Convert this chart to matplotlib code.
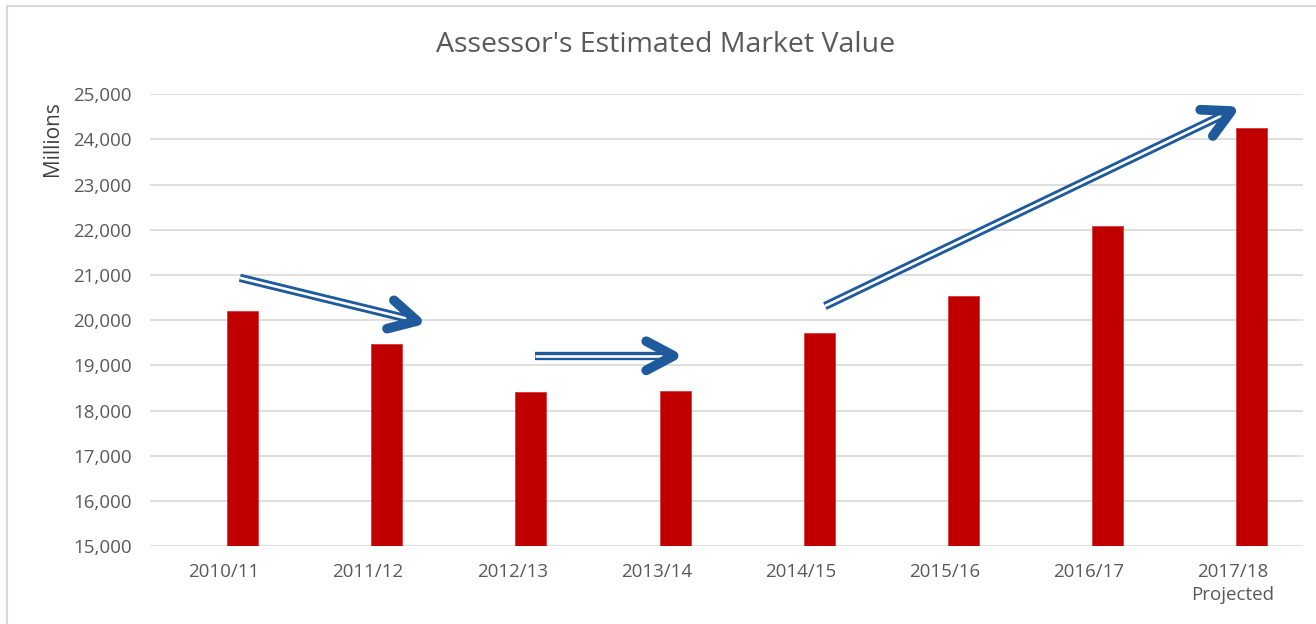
import numpy as np
import matplotlib
matplotlib.use("Agg")
import matplotlib.pyplot as plt
from matplotlib.lines import Line2D

# ---------------- data ----------------
categories = ["2010/11", "2011/12", "2012/13", "2013/14", "2014/15",
              "2015/16", "2016/17", "2017/18\nProjected"]
values = [20200, 19480, 18410, 18435, 19730, 20545, 22085, 24250]
y_ticks = [15000, 16000, 17000, 18000, 19000, 20000, 21000, 22000, 23000, 24000, 25000]

# trend arrows (category index, value)
arrow_start_x = [0.11, 2.16, 4.17]
arrow_start_y = [20940, 19215, 20315]
arrow_end_x = [1.34, 3.12, 6.99]
arrow_end_y = [19985, 19215, 24630]

title = "Assessor's Estimated Market Value"
y_label = "Millions"

# ---------------- style ----------------
FONT = ["Open Sans", "DejaVu Sans"]
plt.rcParams["font.family"] = FONT
TXT = "#595959"
GRID = "#D9D9D9"
BAR = "#C00000"
BLUE = "#1F5A9C"

W, H = 1316, 624
fig = plt.figure(figsize=(W / 100, H / 100), dpi=100)
ax = fig.add_axes([150 / W, 1 - 546.3 / H, 1153 / W, 452 / H])

x = np.arange(len(categories))
ax.bar(x + 0.13, values, width=0.215, color=BAR, edgecolor="#D43A3A",
       linewidth=0.6, zorder=2)

ax.set_xlim(-0.5135, 7.488)
ax.set_ylim(15000, 25000)
ax.set_yticks(y_ticks)
ax.set_yticklabels([f"{v:,}" for v in y_ticks])
ax.set_xticks(x)
ax.set_xticklabels(categories, linespacing=1.35)
ax.tick_params(axis="y", length=0, pad=13, labelsize=13.5, labelcolor=TXT)
ax.tick_params(axis="x", length=0, pad=12, labelsize=13.5, labelcolor=TXT)
ax.grid(axis="y", color=GRID, linewidth=1.2, zorder=0)
ax.set_axisbelow(True)
for s in ax.spines.values():
    s.set_visible(False)

fig.text(53 / W, 1 - 139 / H, y_label, rotation=90, ha="center", va="center",
         fontsize=15, color="#404040")

fig.text(666 / W, 1 - 45 / H, title, ha="center", va="center",
         fontsize=20.5, color=TXT)

# chart border (top & left visible)
fig.add_artist(Line2D([7 / W, 7 / W], [0, 1 - 6 / H], color=GRID, lw=1.5))
fig.add_artist(Line2D([7 / W, 1], [1 - 6 / H, 1 - 6 / H], color=GRID, lw=1.5))


def draw_arrow(x0, y0, x1, y1):
    P0 = ax.transData.transform((x0, y0))
    P1 = ax.transData.transform((x1, y1))
    d = (P1 - P0) / np.hypot(*(P1 - P0))
    px = fig.dpi / 72.0
    Pe = P1 - d * 2 * px
    inv = ax.transData.inverted()
    e = inv.transform(Pe)
    ax.plot([x0, e[0]], [y0, e[1]], color=BLUE, lw=6.0,
            solid_capstyle="butt", zorder=5, clip_on=False)
    ax.plot([x0, e[0]], [y0, e[1]], color="white", lw=1.9,
            solid_capstyle="butt", zorder=6, clip_on=False)
    back = -d
    L = 31 * fig.dpi / 100.0
    a = np.deg2rad(28)
    pts = []
    for sgn in (1, -1):
        c, s_ = np.cos(sgn * a), np.sin(sgn * a)
        r = np.array([back[0] * c - back[1] * s_, back[0] * s_ + back[1] * c])
        pts.append(inv.transform(P1 + r * L))
    xs = [pts[0][0], x1, pts[1][0]]
    ys = [pts[0][1], y1, pts[1][1]]
    ax.plot(xs, ys, color=BLUE, lw=7.0, solid_capstyle="round",
            solid_joinstyle="round", zorder=7, clip_on=False)


for i in range(len(arrow_start_x)):
    draw_arrow(arrow_start_x[i], arrow_start_y[i], arrow_end_x[i], arrow_end_y[i])

fig.savefig("out.png", dpi=100)
